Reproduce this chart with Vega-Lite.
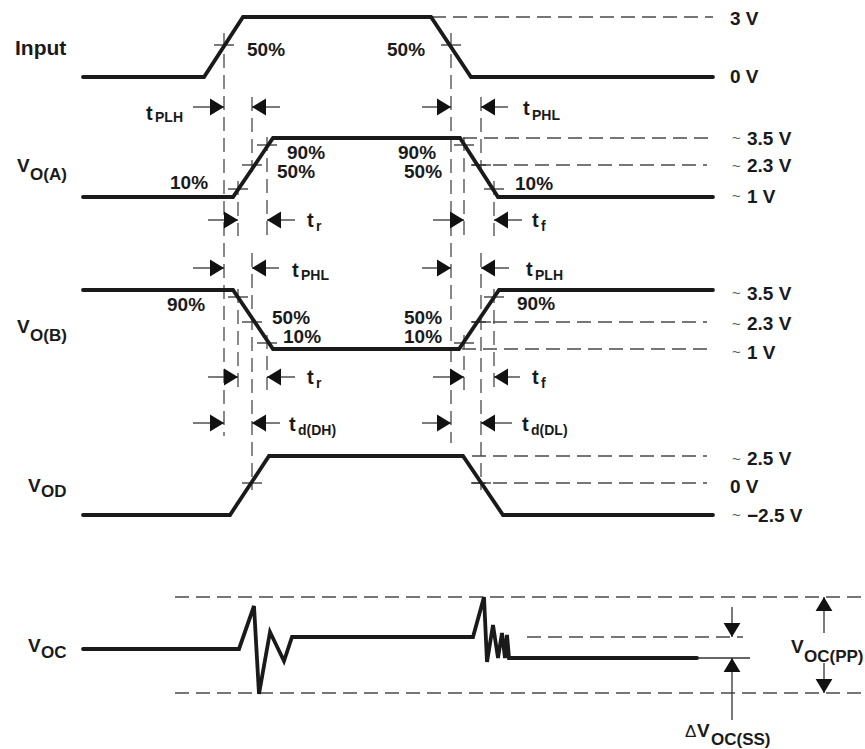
{
  "$schema": "https://vega.github.io/schema/vega-lite/v6.json",
  "width": 865,
  "height": 749,
  "autosize": {"type": "none"},
  "padding": 0,
  "background": "white",
  "config": {"view": {"stroke": null}},
  "datasets": {
    "waves": [
      {"w": "Input", "i": 0, "x": 83, "y": 77}, {"w": "Input", "i": 1, "x": 204, "y": 77}, {"w": "Input", "i": 2, "x": 243, "y": 17}, {"w": "Input", "i": 3, "x": 431, "y": 17}, {"w": "Input", "i": 4, "x": 471, "y": 77}, {"w": "Input", "i": 5, "x": 713, "y": 77},
      {"w": "VOA", "i": 0, "x": 83, "y": 197}, {"w": "VOA", "i": 1, "x": 233, "y": 197}, {"w": "VOA", "i": 2, "x": 273, "y": 138}, {"w": "VOA", "i": 3, "x": 460, "y": 138}, {"w": "VOA", "i": 4, "x": 498, "y": 197}, {"w": "VOA", "i": 5, "x": 713, "y": 197},
      {"w": "VOB", "i": 0, "x": 83, "y": 290}, {"w": "VOB", "i": 1, "x": 233, "y": 290}, {"w": "VOB", "i": 2, "x": 273, "y": 349}, {"w": "VOB", "i": 3, "x": 459, "y": 349}, {"w": "VOB", "i": 4, "x": 499, "y": 290}, {"w": "VOB", "i": 5, "x": 713, "y": 290},
      {"w": "VOD", "i": 0, "x": 83, "y": 515}, {"w": "VOD", "i": 1, "x": 230, "y": 515}, {"w": "VOD", "i": 2, "x": 269, "y": 456}, {"w": "VOD", "i": 3, "x": 463, "y": 456}, {"w": "VOD", "i": 4, "x": 503, "y": 515}, {"w": "VOD", "i": 5, "x": 713, "y": 515},
      {"w": "VOC", "i": 0, "x": 83, "y": 649}, {"w": "VOC", "i": 1, "x": 239, "y": 649}, {"w": "VOC", "i": 2, "x": 254, "y": 606}, {"w": "VOC", "i": 3, "x": 259, "y": 694}, {"w": "VOC", "i": 4, "x": 270, "y": 632}, {"w": "VOC", "i": 5, "x": 284, "y": 661}, {"w": "VOC", "i": 6, "x": 292, "y": 637}, {"w": "VOC", "i": 7, "x": 473, "y": 637}, {"w": "VOC", "i": 8, "x": 484, "y": 597}, {"w": "VOC", "i": 9, "x": 487, "y": 662}, {"w": "VOC", "i": 10, "x": 493, "y": 625}, {"w": "VOC", "i": 11, "x": 498, "y": 658}, {"w": "VOC", "i": 12, "x": 502, "y": 633}, {"w": "VOC", "i": 13, "x": 505, "y": 658}, {"w": "VOC", "i": 14, "x": 507, "y": 635}, {"w": "VOC", "i": 15, "x": 509, "y": 658}, {"w": "VOC", "i": 16, "x": 697, "y": 658}
    ],
    "dash": [
      {"x": 432, "y": 17, "x2": 713, "y2": 17},
      {"x": 463, "y": 138, "x2": 713, "y2": 138},
      {"x": 472, "y": 165, "x2": 707, "y2": 165},
      {"x": 472, "y": 322, "x2": 707, "y2": 322},
      {"x": 462, "y": 349, "x2": 713, "y2": 349},
      {"x": 472, "y": 456, "x2": 707, "y2": 456},
      {"x": 472, "y": 483, "x2": 707, "y2": 483},
      {"x": 175, "y": 597, "x2": 865, "y2": 597},
      {"x": 175, "y": 693, "x2": 865, "y2": 693},
      {"x": 527, "y": 637, "x2": 743, "y2": 637},
      {"x": 224, "y": 33, "x2": 224, "y2": 436},
      {"x": 451, "y": 33, "x2": 451, "y2": 443},
      {"x": 252, "y": 97, "x2": 252, "y2": 172},
      {"x": 252, "y": 253, "x2": 252, "y2": 490},
      {"x": 481, "y": 97, "x2": 481, "y2": 172},
      {"x": 481, "y": 253, "x2": 481, "y2": 490},
      {"x": 238, "y": 181, "x2": 238, "y2": 236},
      {"x": 238, "y": 289, "x2": 238, "y2": 390},
      {"x": 267, "y": 137, "x2": 267, "y2": 236},
      {"x": 267, "y": 335, "x2": 267, "y2": 390},
      {"x": 464, "y": 137, "x2": 464, "y2": 236},
      {"x": 464, "y": 335, "x2": 464, "y2": 390},
      {"x": 494, "y": 181, "x2": 494, "y2": 236},
      {"x": 494, "y": 289, "x2": 494, "y2": 390}
    ],
    "solid": [
      {"x": 697, "y": 658, "x2": 750, "y2": 658}
    ],
    "ticks": [
      {"x": 224, "y": 45}, {"x": 451, "y": 45},
      {"x": 238, "y": 189}, {"x": 252, "y": 165}, {"x": 267, "y": 145}, {"x": 464, "y": 145}, {"x": 481, "y": 165}, {"x": 494, "y": 189},
      {"x": 238, "y": 297}, {"x": 252, "y": 322}, {"x": 267, "y": 343}, {"x": 464, "y": 343}, {"x": 481, "y": 322}, {"x": 494, "y": 297},
      {"x": 252, "y": 483}, {"x": 481, "y": 483}
    ],
    "arrows": [
      {"d": "R", "x": 224, "y": 107, "x2": 193, "y2": 107}, {"d": "L", "x": 252, "y": 107, "x2": 280, "y2": 107},
      {"d": "R", "x": 451, "y": 107, "x2": 422, "y2": 107}, {"d": "L", "x": 481, "y": 107, "x2": 508, "y2": 107},
      {"d": "R", "x": 238, "y": 220, "x2": 208, "y2": 220}, {"d": "L", "x": 267, "y": 220, "x2": 295, "y2": 220},
      {"d": "R", "x": 464, "y": 220, "x2": 433, "y2": 220}, {"d": "L", "x": 494, "y": 220, "x2": 522, "y2": 220},
      {"d": "R", "x": 224, "y": 268, "x2": 193, "y2": 268}, {"d": "L", "x": 252, "y": 268, "x2": 279, "y2": 268},
      {"d": "R", "x": 451, "y": 268, "x2": 422, "y2": 268}, {"d": "L", "x": 481, "y": 268, "x2": 509, "y2": 268},
      {"d": "R", "x": 238, "y": 377, "x2": 208, "y2": 377}, {"d": "L", "x": 267, "y": 377, "x2": 295, "y2": 377},
      {"d": "R", "x": 464, "y": 377, "x2": 433, "y2": 377}, {"d": "L", "x": 494, "y": 377, "x2": 520, "y2": 377},
      {"d": "R", "x": 224, "y": 423, "x2": 193, "y2": 423}, {"d": "L", "x": 252, "y": 423, "x2": 280, "y2": 423},
      {"d": "R", "x": 451, "y": 423, "x2": 422, "y2": 423}, {"d": "L", "x": 481, "y": 423, "x2": 512, "y2": 423},
      {"d": "D", "x": 732, "y": 637, "x2": 732, "y2": 607}, {"d": "U", "x": 732, "y": 658, "x2": 732, "y2": 720},
      {"d": "U", "x": 824, "y": 597, "x2": 824, "y2": 633}, {"d": "D", "x": 824, "y": 693, "x2": 824, "y2": 663}
    ],
    "title": [
      {"t": "Input", "x": 15, "y": 55}
    ],
    "lab": [
      {"t": "V", "x": 17, "y": 172}, {"t": "V", "x": 17, "y": 333}, {"t": "V", "x": 28, "y": 492}, {"t": "V", "x": 28, "y": 652}, {"t": "V", "x": 697, "y": 737}, {"t": "V", "x": 791, "y": 653},
      {"t": "50%", "x": 247, "y": 56}, {"t": "50%", "x": 387, "y": 56},
      {"t": "90%", "x": 287, "y": 159}, {"t": "50%", "x": 277, "y": 178}, {"t": "10%", "x": 170, "y": 189},
      {"t": "90%", "x": 398, "y": 159}, {"t": "50%", "x": 404, "y": 178}, {"t": "10%", "x": 515, "y": 190},
      {"t": "90%", "x": 167, "y": 311}, {"t": "50%", "x": 272, "y": 324}, {"t": "10%", "x": 283, "y": 343},
      {"t": "50%", "x": 404, "y": 324}, {"t": "10%", "x": 404, "y": 343}, {"t": "90%", "x": 517, "y": 310},
      {"t": "3 V", "x": 730, "y": 25}, {"t": "0 V", "x": 730, "y": 83},
      {"t": "3.5 V", "x": 747, "y": 145}, {"t": "2.3 V", "x": 747, "y": 172}, {"t": "1 V", "x": 747, "y": 203},
      {"t": "3.5 V", "x": 747, "y": 300}, {"t": "2.3 V", "x": 747, "y": 330}, {"t": "1 V", "x": 747, "y": 359},
      {"t": "2.5 V", "x": 747, "y": 465}, {"t": "0 V", "x": 730, "y": 493}, {"t": "−2.5 V", "x": 747, "y": 522}
    ],
    "rowsub": [
      {"t": "O(A)", "x": 30, "y": 180}, {"t": "O(B)", "x": 30, "y": 341}, {"t": "OD", "x": 41, "y": 497}, {"t": "OC", "x": 41, "y": 658},
      {"t": "OC(SS)", "x": 711, "y": 745}, {"t": "OC(PP)", "x": 804, "y": 662}
    ],
    "tmain": [
      {"t": "t", "x": 146, "y": 120}, {"t": "t", "x": 523, "y": 115},
      {"t": "t", "x": 307, "y": 227}, {"t": "t", "x": 532, "y": 227},
      {"t": "t", "x": 292, "y": 277}, {"t": "t", "x": 526, "y": 276},
      {"t": "t", "x": 307, "y": 384}, {"t": "t", "x": 532, "y": 384},
      {"t": "t", "x": 289, "y": 431}, {"t": "t", "x": 522, "y": 431}
    ],
    "tsub": [
      {"t": "PLH", "x": 155, "y": 122}, {"t": "PHL", "x": 532, "y": 120},
      {"t": "r", "x": 316, "y": 231}, {"t": "f", "x": 541, "y": 231},
      {"t": "PHL", "x": 301, "y": 280}, {"t": "PLH", "x": 535, "y": 280},
      {"t": "r", "x": 316, "y": 388}, {"t": "f", "x": 541, "y": 388},
      {"t": "d(DH)", "x": 298, "y": 435}, {"t": "d(DL)", "x": 531, "y": 435}
    ],
    "tilde": [
      {"t": "~", "x": 732, "y": 143}, {"t": "~", "x": 732, "y": 171}, {"t": "~", "x": 732, "y": 201},
      {"t": "~", "x": 732, "y": 298}, {"t": "~", "x": 732, "y": 329}, {"t": "~", "x": 732, "y": 357},
      {"t": "~", "x": 732, "y": 464}, {"t": "~", "x": 732, "y": 520}
    ],
    "delta": [
      {"t": "Δ", "x": 685, "y": 737}
    ]
  },
  "encoding": {
    "x": {"field": "x", "type": "quantitative", "scale": {"domain": [0, 865], "nice": false, "zero": false}, "axis": null},
    "y": {"field": "y", "type": "quantitative", "scale": {"domain": [0, 749], "reverse": true, "nice": false, "zero": false}, "axis": null}
  },
  "layer": [
    {
      "data": {"name": "dash"},
      "mark": {"type": "rule", "stroke": "#4a4a4a", "strokeWidth": 1.3, "strokeDash": [14, 7]},
      "encoding": {"x2": {"field": "x2"}, "y2": {"field": "y2"}}
    },
    {
      "data": {"name": "solid"},
      "mark": {"type": "rule", "stroke": "#333333", "strokeWidth": 1.3},
      "encoding": {"x2": {"field": "x2"}, "y2": {"field": "y2"}}
    },
    {
      "data": {"name": "ticks"},
      "mark": {"type": "tick", "orient": "horizontal", "size": 20, "thickness": 1.3, "color": "#333333", "opacity": 1},
      "encoding": {}
    },
    {
      "data": {"name": "arrows"},
      "mark": {"type": "rule", "stroke": "#333333", "strokeWidth": 1.3},
      "encoding": {"x2": {"field": "x2"}, "y2": {"field": "y2"}}
    },
    {
      "data": {"name": "arrows"},
      "transform": [{"filter": "datum.d === 'R'"}],
      "mark": {"type": "point", "shape": "M0,0L-1,-0.6L-1,0.6Z", "size": 784, "filled": true, "color": "#111111", "opacity": 1, "angle": 0},
      "encoding": {}
    },
    {
      "data": {"name": "arrows"},
      "transform": [{"filter": "datum.d === 'L'"}],
      "mark": {"type": "point", "shape": "M0,0L-1,-0.6L-1,0.6Z", "size": 784, "filled": true, "color": "#111111", "opacity": 1, "angle": 180},
      "encoding": {}
    },
    {
      "data": {"name": "arrows"},
      "transform": [{"filter": "datum.d === 'D'"}],
      "mark": {"type": "point", "shape": "M0,0L-1,-0.6L-1,0.6Z", "size": 784, "filled": true, "color": "#111111", "opacity": 1, "angle": 90},
      "encoding": {}
    },
    {
      "data": {"name": "arrows"},
      "transform": [{"filter": "datum.d === 'U'"}],
      "mark": {"type": "point", "shape": "M0,0L-1,-0.6L-1,0.6Z", "size": 784, "filled": true, "color": "#111111", "opacity": 1, "angle": 270},
      "encoding": {}
    },
    {
      "data": {"name": "waves"},
      "mark": {"type": "line", "stroke": "#1a1a1a", "strokeWidth": 3.8, "strokeJoin": "miter", "strokeCap": "round"},
      "encoding": {"detail": {"field": "w"}, "order": {"field": "i", "type": "quantitative"}}
    },
    {
      "data": {"name": "title"},
      "mark": {"type": "text", "font": "Liberation Sans", "fontWeight": "bold", "fontSize": 21, "align": "left", "baseline": "alphabetic", "color": "#1a1a1a"},
      "encoding": {"text": {"field": "t"}}
    },
    {
      "data": {"name": "lab"},
      "mark": {"type": "text", "font": "Liberation Sans", "fontWeight": "bold", "fontSize": 19, "align": "left", "baseline": "alphabetic", "color": "#1a1a1a"},
      "encoding": {"text": {"field": "t"}}
    },
    {
      "data": {"name": "rowsub"},
      "mark": {"type": "text", "font": "Liberation Sans", "fontWeight": "bold", "fontSize": 17, "align": "left", "baseline": "alphabetic", "color": "#1a1a1a"},
      "encoding": {"text": {"field": "t"}}
    },
    {
      "data": {"name": "tmain"},
      "mark": {"type": "text", "font": "Liberation Sans", "fontWeight": "bold", "fontSize": 20, "align": "left", "baseline": "alphabetic", "color": "#1a1a1a"},
      "encoding": {"text": {"field": "t"}}
    },
    {
      "data": {"name": "tsub"},
      "mark": {"type": "text", "font": "Liberation Sans", "fontWeight": "bold", "fontSize": 14, "align": "left", "baseline": "alphabetic", "color": "#1a1a1a"},
      "encoding": {"text": {"field": "t"}}
    },
    {
      "data": {"name": "tilde"},
      "mark": {"type": "text", "font": "Liberation Sans", "fontWeight": "normal", "fontSize": 15, "align": "left", "baseline": "alphabetic", "color": "#555555"},
      "encoding": {"text": {"field": "t"}}
    },
    {
      "data": {"name": "delta"},
      "mark": {"type": "text", "font": "Liberation Sans", "fontWeight": "normal", "fontSize": 17, "align": "left", "baseline": "alphabetic", "color": "#1a1a1a"},
      "encoding": {"text": {"field": "t"}}
    }
  ]
}
